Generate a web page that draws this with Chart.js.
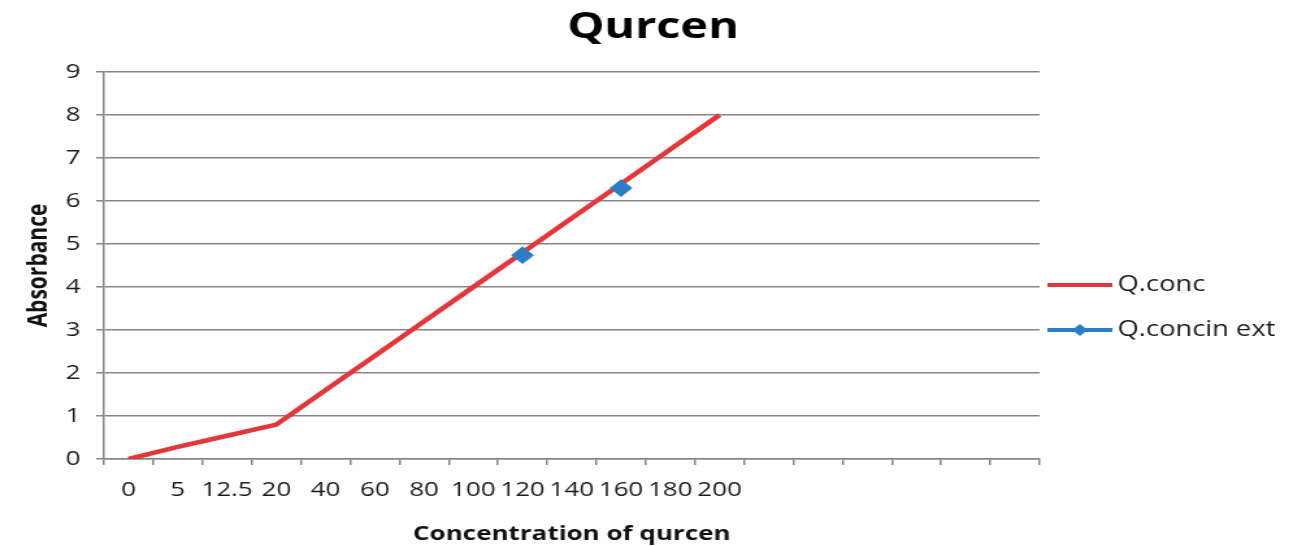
<!DOCTYPE html>
<html>
<head>
<meta charset="utf-8">
<script src="https://cdn.jsdelivr.net/npm/chart.js@4/dist/chart.umd.min.js"></script>
<style>
  html, body { margin: 0; padding: 0; background: #ffffff; overflow: hidden; }
  /* the chart is laid out narrow and widened horizontally, giving the wide lettering */
  #wrap { width: 995px; height: 546px; transform: scaleX(1.2995); transform-origin: 0 0; }
  canvas { display: block; }
</style>
</head>
<body>
<div id="wrap"><canvas id="chart" width="995" height="546"></canvas></div>
<script>
// Concentration categories (the axis keeps six empty slots after 200)
const concentrations = ['0', '5', '12.5', '20', '40', '60', '80', '100', '120', '140', '160', '180', '200',
                        '', '', '', '', '', ''];
// Absorbance of the quercetin standard
const qConc = [0, 0.28, 0.54, 0.8, 1.6, 2.4, 3.2, 4.0, 4.8, 5.6, 6.4, 7.2, 8.0];
// Absorbance measured in the extracts
const qConcInExt = [null, null, null, null, null, null, null, null, 4.74, null, 6.3];
// Y axis range
const yMin = 0;
const yMax = 9;
const yStep = 1;

const FONT = "'Open Sans', 'Liberation Sans', sans-serif";
const GRID = '#858585';
const RED = '#e2383c';
const BLUE = '#2d7dc4';
const TEXT = '#1a1a1a';

// Chart heading, centred over the whole figure
const heading = {
  id: 'heading',
  afterDraw(chart) {
    const ctx = chart.ctx;
    ctx.save();
    ctx.fillStyle = '#000000';
    ctx.font = 'bold 36px ' + FONT;
    ctx.textAlign = 'center';
    ctx.textBaseline = 'alphabetic';
    ctx.fillText('Qurcen', chart.width / 2 + 5, 38);
    ctx.restore();
  }
};

// Legend to the right of the plot, one row per series
const sideLegend = {
  id: 'sideLegend',
  afterDraw(chart) {
    const ctx = chart.ctx;
    const area = chart.chartArea;
    const x0 = area.right + 6;
    const x1 = x0 + 50;
    const tx = x1 + 4;
    const rowsY = [285, 330];
    ctx.save();
    chart.data.datasets.forEach((ds, i) => {
      const y = rowsY[i];
      ctx.strokeStyle = ds.borderColor;
      ctx.lineWidth = 4;
      ctx.beginPath();
      ctx.moveTo(x0, y);
      ctx.lineTo(x1, y);
      ctx.stroke();
      if (ds.pointRadius > 0) {
        const cx = (x0 + x1) / 2;
        const r = ds.pointRadius;
        ctx.fillStyle = ds.pointBackgroundColor;
        ctx.beginPath();
        ctx.moveTo(cx, y - r);
        ctx.lineTo(cx + r, y);
        ctx.lineTo(cx, y + r);
        ctx.lineTo(cx - r, y);
        ctx.closePath();
        ctx.fill();
      }
      ctx.fillStyle = TEXT;
      ctx.font = '21px ' + FONT;
      ctx.textAlign = 'left';
      ctx.textBaseline = 'middle';
      ctx.fillText(ds.label, tx, y);
    });
    ctx.restore();
  }
};

new Chart(document.getElementById('chart'), {
  type: 'line',
  data: {
    labels: concentrations,
    datasets: [
      {
        label: 'Q.conc',
        data: qConc,
        borderColor: RED,
        backgroundColor: RED,
        borderWidth: 4.5,
        pointRadius: 0,
        pointBackgroundColor: RED,
        tension: 0,
        order: 1
      },
      {
        label: 'Q.concin ext',
        data: qConcInExt,
        borderColor: BLUE,
        backgroundColor: BLUE,
        borderWidth: 4,
        pointStyle: 'rectRot',
        pointRadius: 6,
        pointBackgroundColor: BLUE,
        pointBorderColor: BLUE,
        spanGaps: false,
        order: 0
      }
    ]
  },
  options: {
    responsive: false,
    animation: false,
    devicePixelRatio: 1,
    layout: { padding: { left: 0, right: 195, top: 72, bottom: 0 } },
    plugins: {
      legend: { display: false },
      tooltip: { enabled: false },
      title: { display: false }
    },
    scales: {
      x: {
        offset: true,
        grid: { offset: true, drawOnChartArea: false, drawTicks: true, tickLength: 6, color: GRID, lineWidth: 1.5 },
        border: { color: GRID, width: 1.5 },
        ticks: { autoSkip: false, maxRotation: 0, minRotation: 0, padding: 13, color: TEXT,
                 font: { family: FONT, size: 20 } },
        title: { display: true, text: 'Concentration of qurcen', color: '#111111',
                 font: { family: FONT, size: 20, weight: 'bold' }, padding: { top: 0, bottom: 0 } },
        afterFit(scale) { scale.height = 87; }
      },
      y: {
        min: yMin,
        max: yMax,
        ticks: { stepSize: yStep, padding: 12, color: TEXT, font: { family: FONT, size: 20 } },
        grid: { color: GRID, lineWidth: 1.5, tickLength: 6, drawTicks: true },
        border: { color: GRID, width: 1.5 },
        title: { display: true, text: 'Absorbance', color: '#111111',
                 font: { family: FONT, size: 21, weight: 'bold' }, padding: { top: 17, bottom: 0 } },
        afterFit(scale) { scale.width = 80; }
      }
    }
  },
  plugins: [heading, sideLegend]
});
</script>
</body>
</html>
